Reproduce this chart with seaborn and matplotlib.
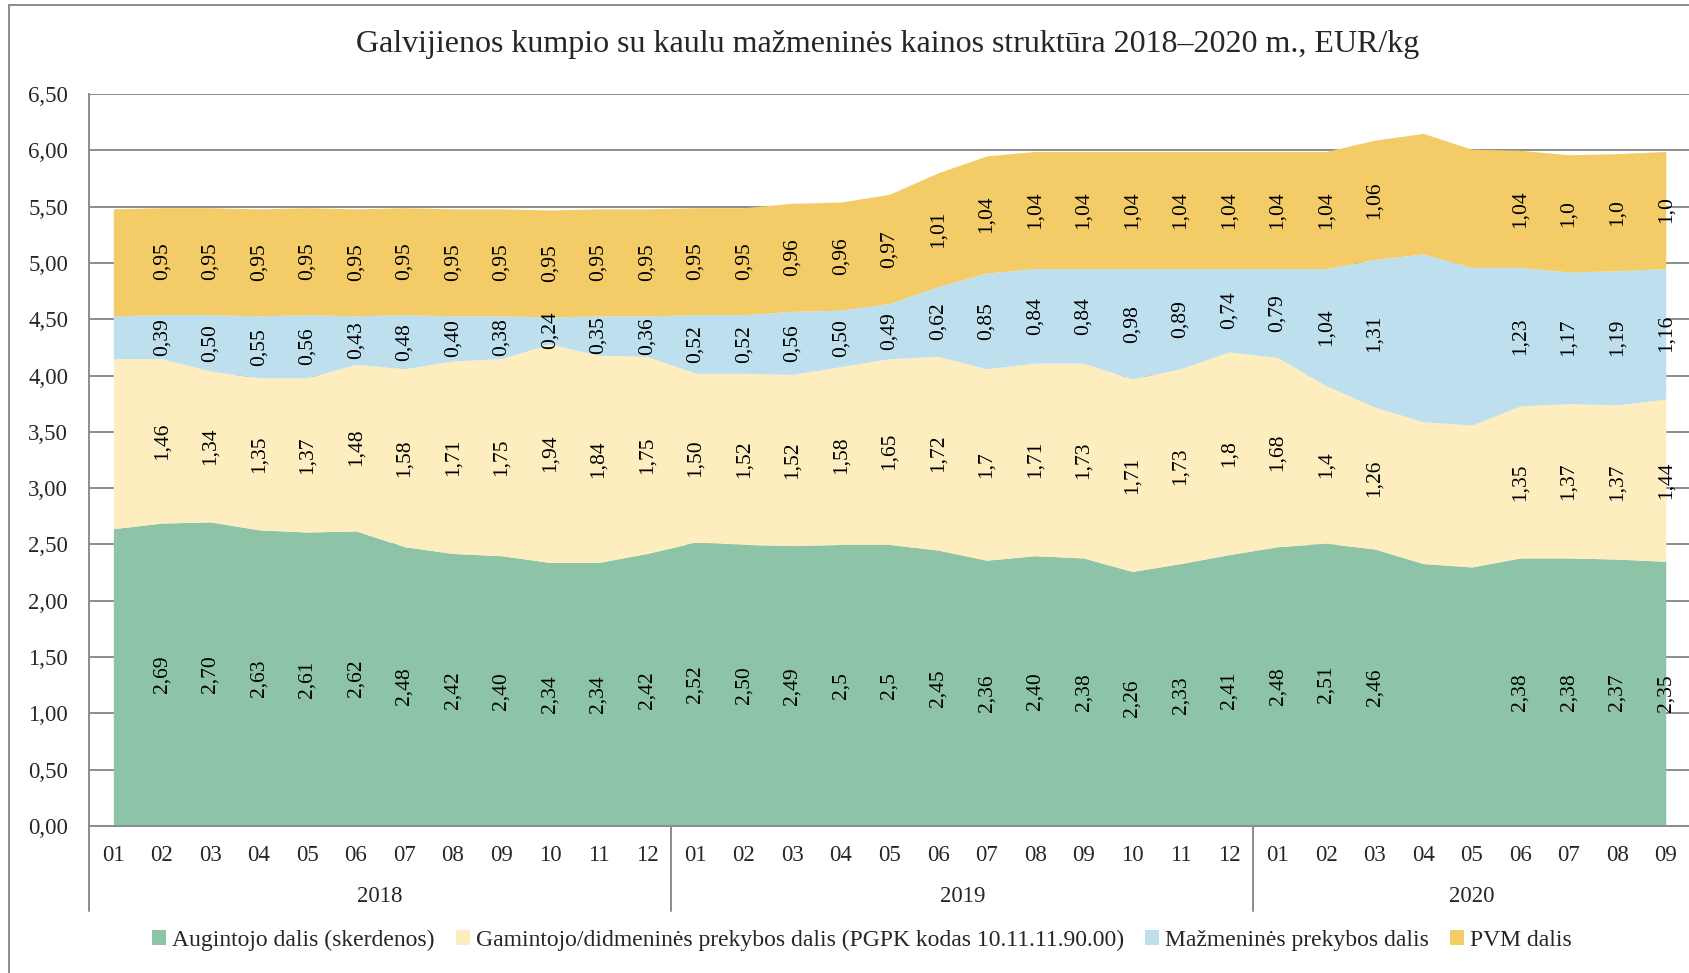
import matplotlib
matplotlib.use("Agg")
import numpy as np
import seaborn as sns
import matplotlib.pyplot as plt
from matplotlib.patches import Patch, Rectangle
import matplotlib.transforms as mtransforms

# Data (EUR/kg), 2018-01 ... 2020-09
months = ['01', '02', '03', '04', '05', '06', '07', '08', '09', '10', '11', '12'] * 2 + \
         ['01', '02', '03', '04', '05', '06', '07', '08', '09']
years = ['2018', '2019', '2020']
year_centers = [5.5, 17.5, 28]

augintojo = [2.64, 2.69, 2.70, 2.63, 2.61, 2.62, 2.48, 2.42, 2.40, 2.34, 2.34, 2.42,
             2.52, 2.50, 2.49, 2.50, 2.50, 2.45, 2.36, 2.40, 2.38, 2.26, 2.33, 2.41,
             2.48, 2.51, 2.46, 2.33, 2.30, 2.38, 2.38, 2.37, 2.35]
gamintojo = [1.51, 1.46, 1.34, 1.35, 1.37, 1.48, 1.58, 1.71, 1.75, 1.94, 1.84, 1.75,
             1.50, 1.52, 1.52, 1.58, 1.65, 1.72, 1.70, 1.71, 1.73, 1.71, 1.73, 1.80,
             1.68, 1.40, 1.26, 1.26, 1.26, 1.35, 1.37, 1.37, 1.44]
mazmenines = [0.38, 0.39, 0.50, 0.55, 0.56, 0.43, 0.48, 0.40, 0.38, 0.24, 0.35, 0.36,
              0.52, 0.52, 0.56, 0.50, 0.49, 0.62, 0.85, 0.84, 0.84, 0.98, 0.89, 0.74,
              0.79, 1.04, 1.31, 1.49, 1.40, 1.23, 1.17, 1.19, 1.16]
pvm = [0.95, 0.95, 0.95, 0.95, 0.95, 0.95, 0.95, 0.95, 0.95, 0.95, 0.95, 0.95,
       0.95, 0.95, 0.96, 0.96, 0.97, 1.01, 1.04, 1.04, 1.04, 1.04, 1.04, 1.04,
       1.04, 1.04, 1.06, 1.07, 1.05, 1.04, 1.04, 1.04, 1.04]

# data label texts as printed on the chart ('' = no label)
lbl_augintojo = ['', '2,69', '2,70', '2,63', '2,61', '2,62', '2,48', '2,42', '2,40', '2,34', '2,34', '2,42',
                 '2,52', '2,50', '2,49', '2,5', '2,5', '2,45', '2,36', '2,40', '2,38', '2,26', '2,33', '2,41',
                 '2,48', '2,51', '2,46', '', '', '2,38', '2,38', '2,37', '2,35']
lbl_gamintojo = ['', '1,46', '1,34', '1,35', '1,37', '1,48', '1,58', '1,71', '1,75', '1,94', '1,84', '1,75',
                 '1,50', '1,52', '1,52', '1,58', '1,65', '1,72', '1,7', '1,71', '1,73', '1,71', '1,73', '1,8',
                 '1,68', '1,4', '1,26', '', '', '1,35', '1,37', '1,37', '1,44']
lbl_mazmenines = ['', '0,39', '0,50', '0,55', '0,56', '0,43', '0,48', '0,40', '0,38', '0,24', '0,35', '0,36',
                  '0,52', '0,52', '0,56', '0,50', '0,49', '0,62', '0,85', '0,84', '0,84', '0,98', '0,89', '0,74',
                  '0,79', '1,04', '1,31', '', '', '1,23', '1,17', '1,19', '1,16']
lbl_pvm = ['', '0,95', '0,95', '0,95', '0,95', '0,95', '0,95', '0,95', '0,95', '0,95', '0,95', '0,95',
           '0,95', '0,95', '0,96', '0,96', '0,97', '1,01', '1,04', '1,04', '1,04', '1,04', '1,04', '1,04',
           '1,04', '1,04', '1,06', '', '', '1,04', '1,0', '1,0', '1,0']

series_names = ['Augintojo dalis (skerdenos)',
                'Gamintojo/didmeninės prekybos dalis (PGPK kodas 10.11.11.90.00)',
                'Mažmeninės prekybos dalis',
                'PVM dalis']
colors = ['#8DC3A7', '#FDEDBF', '#BDDFEE', '#F3CB67']

sns.set_theme(style="white")
plt.rcParams['font.family'] = ['Liberation Serif', 'DejaVu Serif']

fig = plt.figure(figsize=(16.9, 9.73), dpi=100)
ax = fig.add_axes([0.0527, 0.1511, 0.9473, 0.7523])

x = np.arange(len(months))
data = [augintojo, gamintojo, mazmenines, pvm]
labels = [lbl_augintojo, lbl_gamintojo, lbl_mazmenines, lbl_pvm]

ax.stackplot(x, *data, colors=colors, linewidth=0, zorder=2)

# data labels in the middle of each band
bottom = np.zeros(len(x))
for vals, lbls in zip(data, labels):
    vals = np.array(vals)
    for i in range(len(x)):
        if lbls[i]:
            ax.text(x[i], bottom[i] + vals[i] / 2, lbls[i], rotation=90,
                    ha='center', va='center', fontsize=15.5, color='black', zorder=3)
    bottom += vals

ax.set_xlim(-0.5, 32.5)
ax.set_ylim(0, 6.5)
yt = np.arange(0, 6.51, 0.5)
ax.set_yticks(yt)
ax.set_yticklabels([f"{v:.2f}".replace('.', ',') for v in yt], fontsize=16.5)
ax.set_xticks(x)
ax.set_xticklabels(months, fontsize=16.5)
ax.tick_params(axis='both', length=0)
ax.tick_params(axis='y', pad=15)
ax.tick_params(axis='x', pad=14)

ax.grid(axis='y', color='#8c8c8c', linewidth=1.4, zorder=1)
ax.set_axisbelow(True)
for s in ['top', 'right']:
    ax.spines[s].set_visible(False)
for s in ['left', 'bottom']:
    ax.spines[s].set_color('#8c8c8c')
    ax.spines[s].set_linewidth(1.4)

# year group separators and labels
trans = mtransforms.blended_transform_factory(ax.transData, ax.transAxes)
for xs in [-0.5, 11.5, 23.5]:
    ax.plot([xs, xs], [0, -0.116], transform=trans, color='#8c8c8c',
            linewidth=1.4, clip_on=False)
for yc, yr in zip(year_centers, years):
    ax.text(yc, -0.097, yr, transform=trans, ha='center', va='center', fontsize=16.5)

fig.text(0.525, 0.954, 'Galvijienos kumpio su kaulu mažmeninės kainos struktūra 2018–2020 m., EUR/kg',
         ha='center', va='center', fontsize=23)

handles = [Patch(facecolor=c, edgecolor='none') for c in colors]
fig.legend(handles, series_names, loc='center', bbox_to_anchor=(0.51, 0.034), ncol=4,
           frameon=False, fontsize=17, handlelength=0.6, handleheight=0.6,
           handletextpad=0.25, columnspacing=0.9)

# outer chart frame
fig.patches.append(Rectangle((9 / 1690, -0.05), 1.2, 0.05 + 1 - 5 / 973,
                             transform=fig.transFigure, fill=False,
                             edgecolor='#8c8c8c', linewidth=1.4))

fig.savefig('out.png', dpi=100)
